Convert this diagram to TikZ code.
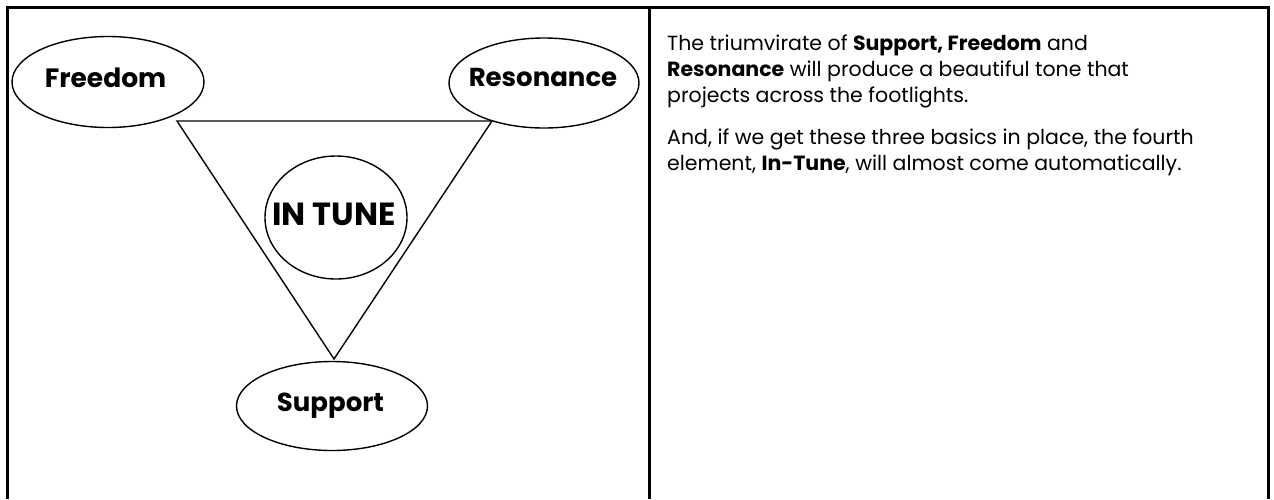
\documentclass[tikz,border=0pt]{standalone}
\usepackage{fontspec}
\setmainfont{Poppins}
\usetikzlibrary{shapes.geometric}
\tikzset{
  bubble/.style={draw, line width=1.4pt, ellipse, inner sep=0pt},
  lbl/.style={anchor=base, inner sep=0pt, font=\bfseries\fontsize{26.5}{30}\selectfont},
  body/.style={anchor=base west, inner sep=0pt, font=\fontsize{20.5}{26}\selectfont},
  edge/.style={line width=1.4pt},
  frame/.style={line width=2.2pt}
}
\begin{document}
\begin{tikzpicture}[x=1pt,y=-1pt]
\useasboundingbox (0,0) rectangle (1274,499);
\fill[white] (0,0) rectangle (1274,499);
% frame
\coordinate (tl) at (7.5,7.5);
\coordinate (tr) at (1268.5,7.5);
\coordinate (bl) at (7.5,499);
\coordinate (br) at (1268.5,499);
\coordinate (mt) at (649.5,7.5);
\coordinate (mb) at (649.5,499);
\draw[frame] (bl) -- (tl) -- (tr) -- (br);
\draw[frame] (mt) -- (mb);
% triangle
\coordinate (A) at (177,121);
\coordinate (B) at (492,121);
\coordinate (C) at (334,359);
\draw[edge] (A) -- (B) -- (C) -- cycle;
% ellipses
\node[bubble, minimum width=192pt, minimum height=91pt, fill=white] (free) at (108,82) {};
\node[lbl] (freet) at (105.5,87) {Freedom};
\node[bubble, minimum width=190pt, minimum height=90pt, fill=white] (res) at (544,83) {};
\node[lbl, font=\bfseries\fontsize{26}{30}\selectfont] (rest) at (543,86) {Resonance};
\node[bubble, minimum width=191pt, minimum height=89pt, fill=white] (sup) at (332,406) {};
\node[lbl, font=\bfseries\fontsize{26}{30}\selectfont] (supt) at (330.5,411) {Support};
\node[bubble, minimum width=142pt, minimum height=123pt] (tune) at (336,217.5) {};
\node[lbl, font=\bfseries\fontsize{32}{36}\selectfont] (tunet) at (334,225) {IN TUNE};
% text
\node[body] (l1) at (667,50) {The triumvirate of \textbf{Support, Freedom} and};
\node[body] (l2) at (667,76) {\textbf{Resonance} will produce a beautiful tone that};
\node[body] (l3) at (667,102) {projects across the footlights.};
\node[body] (l4) at (667,144) {And, if we get these three basics in place, the fourth};
\node[body] (l5) at (667,170) {element, \textbf{In-Tune}, will almost come automatically.};
\end{tikzpicture}
\end{document}
